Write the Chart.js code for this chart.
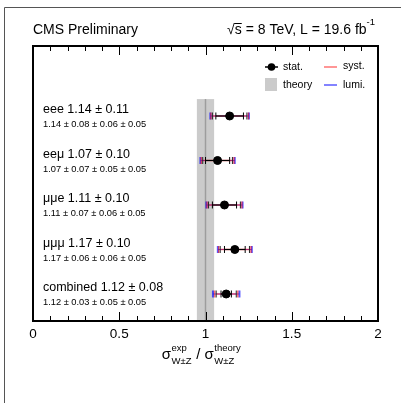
<!DOCTYPE html>
<html>
<head>
<meta charset="utf-8">
<script src="https://cdn.jsdelivr.net/npm/chart.js@4.4.0/dist/chart.umd.min.js"></script>
<style>
  html, body { margin: 0; padding: 0; background: #fff; }
</style>
</head>
<body>
<canvas id="chart-wz" width="401" height="403"></canvas>
<script>
/* ═══════════════════════════════════════════════════
   DATA
═══════════════════════════════════════════════════ */
const channels = ['eee', 'eeμ', 'μμe', 'μμμ', 'combined'];
const ratio    = [1.14, 1.07, 1.11, 1.17, 1.12];
const totalErr = [0.11, 0.10, 0.10, 0.10, 0.08];
const statErr  = [0.08, 0.07, 0.07, 0.06, 0.03];
const systErr  = [0.06, 0.05, 0.06, 0.06, 0.05];
const lumiErr  = [0.05, 0.05, 0.05, 0.05, 0.05];
const rowPos   = [5, 4, 3, 2, 1];
const theoryBand = [0.95, 1.05];
const theoryCentral = 1.0;
const xTicks = [0, 0.5, 1, 1.5, 2];
const xMinorStep = 0.1;

const FONT = '"Liberation Sans", Arial, Helvetica, sans-serif';
const RED = 'rgba(255,0,0,0.55)';
const BLUE = 'rgba(0,0,255,0.65)';

function font(size) { return size + 'px ' + FONT; }

function hLine(ctx, x0, x1, y, color, w) {
  ctx.strokeStyle = color; ctx.lineWidth = w;
  ctx.beginPath(); ctx.moveTo(x0, y); ctx.lineTo(x1, y); ctx.stroke();
}
function vLine(ctx, x, y0, y1, color, w) {
  ctx.strokeStyle = color; ctx.lineWidth = w;
  ctx.beginPath(); ctx.moveTo(x, y0); ctx.lineTo(x, y1); ctx.stroke();
}

/* ─── band + error bars, under the points ─── */
const errorBarsPlugin = {
  id: 'errorBars',
  beforeDatasetsDraw(chart) {
    const { ctx, chartArea: a, scales: { x, y } } = chart;
    ctx.save();
    // theory band
    const bandTop = y.getPixelForValue(rowPos[0] + 0.38);
    const bx0 = x.getPixelForValue(theoryBand[0]);
    const bx1 = x.getPixelForValue(theoryBand[1]);
    ctx.fillStyle = '#cbcbcb';
    ctx.fillRect(bx0, bandTop, bx1 - bx0, a.bottom - bandTop);
    vLine(ctx, x.getPixelForValue(theoryCentral), bandTop, a.bottom, '#9d9d9d', 1.5);

    const cap = 3.5;
    ratio.forEach((v, i) => {
      const py = y.getPixelForValue(rowPos[i]);
      const ss = Math.sqrt(statErr[i] ** 2 + systErr[i] ** 2);
      const tot = Math.sqrt(ss ** 2 + lumiErr[i] ** 2);
      const xl = (d) => x.getPixelForValue(v - d);
      const xr = (d) => x.getPixelForValue(v + d);
      // lumi (total)
      hLine(ctx, xl(tot), xr(tot), py, BLUE, 1);
      vLine(ctx, xl(tot), py - cap, py + cap, BLUE, 2);
      vLine(ctx, xr(tot), py - cap, py + cap, BLUE, 2);
      // syst
      hLine(ctx, xl(ss), xr(ss), py, RED, 1.5);
      vLine(ctx, xl(ss) - 1.5, py - cap, py + cap, RED, 1.5);
      vLine(ctx, xr(ss) + 1.5, py - cap, py + cap, RED, 1.5);
      vLine(ctx, xl(ss), py - cap, py + cap, '#222', 1);
      vLine(ctx, xr(ss), py - cap, py + cap, '#222', 1);
      // stat
      hLine(ctx, xl(statErr[i]), xr(statErr[i]), py, '#000', 1.2);
      vLine(ctx, xl(statErr[i]), py - cap, py + cap, '#000', 1);
      vLine(ctx, xr(statErr[i]), py - cap, py + cap, '#000', 1);
    });
    ctx.restore();
  }
};

/* ─── frame, ticks, labels, legend, titles ─── */
const decorPlugin = {
  id: 'decor',
  beforeDraw(chart) {
    const { ctx } = chart;
    ctx.save();
    ctx.fillStyle = '#fff';
    ctx.fillRect(0, 0, chart.width, chart.height);
    // outer canvas frame
    ctx.strokeStyle = '#555'; ctx.lineWidth = 1;
    ctx.beginPath();
    ctx.moveTo(4.5, chart.height); ctx.lineTo(4.5, 7.5); ctx.lineTo(chart.width, 7.5);
    ctx.stroke();
    ctx.restore();
  },
  afterDatasetsDraw(chart) {
    const { ctx, chartArea: a, scales: { x, y } } = chart;
    ctx.save();

    // ticks (inward, top and bottom)
    for (let k = 0; k <= 20; k++) {
      const v = k * xMinorStep;
      const px = Math.round(x.getPixelForValue(v)) + 0.5;
      const major = xTicks.some(t => Math.abs(t - v) < 1e-6);
      const len = major ? 9 : 5;
      vLine(ctx, px, a.bottom, a.bottom - len, '#000', 1);
      vLine(ctx, px, a.top, a.top + len, '#000', 1);
    }
    // plot frame
    ctx.strokeStyle = '#000'; ctx.lineWidth = 2;
    ctx.strokeRect(a.left, a.top, a.right - a.left, a.bottom - a.top);

    // tick labels
    ctx.fillStyle = '#000';
    ctx.font = font(13.5);
    ctx.textAlign = 'center'; ctx.textBaseline = 'middle';
    xTicks.forEach(t => ctx.fillText(String(t), x.getPixelForValue(t), a.bottom + 13));

    // row labels
    ctx.textAlign = 'left';
    channels.forEach((c, i) => {
      const py = y.getPixelForValue(rowPos[i]);
      ctx.font = font(12.5);
      ctx.fillText(c + ' ' + ratio[i].toFixed(2) + ' ± ' + totalErr[i].toFixed(2), a.left + 10, py - 6);
      ctx.font = font(9.3);
      ctx.fillText(ratio[i].toFixed(2) + ' ± ' + statErr[i].toFixed(2) + ' ± ' +
        systErr[i].toFixed(2) + ' ± ' + lumiErr[i].toFixed(2), a.left + 10, py + 8.5);
    });

    // legend
    const lx = a.right - 113, ly1 = a.top + 21, ly2 = a.top + 39;
    hLine(ctx, lx, lx + 13, ly1, '#000', 1.5);
    ctx.beginPath(); ctx.arc(lx + 6.5, ly1, 3.8, 0, Math.PI * 2); ctx.fillStyle = '#000'; ctx.fill();
    ctx.fillStyle = '#cbcbcb';
    ctx.fillRect(lx, ly2 - 7, 12, 13);
    hLine(ctx, lx + 59, lx + 72, ly1, RED, 1.5);
    hLine(ctx, lx + 59, lx + 72, ly2, BLUE, 1.5);
    ctx.fillStyle = '#000';
    ctx.font = font(10.5);
    ctx.fillText('stat.', lx + 18, ly1);
    ctx.fillText('theory', lx + 18, ly2);
    ctx.fillText('syst.', lx + 78, ly1 - 1);
    ctx.fillText('lumi.', lx + 78, ly2);

    // header texts
    ctx.font = font(14);
    ctx.fillText('CMS Preliminary', a.left, 30);
    const supW = (ctx.font = font(9.5), ctx.measureText('-1').width);
    ctx.font = font(14);
    const head = '√s = 8 TeV, L = 19.6 fb';
    const hw = ctx.measureText(head).width;
    const hx = 375 - supW - hw;
    ctx.fillText(head, hx, 30);
    const rw = ctx.measureText('√').width, sw = ctx.measureText('s').width;
    hLine(ctx, hx + rw - 0.5, hx + rw + sw, 23.5, '#000', 1);
    ctx.font = font(9.5);
    ctx.fillText('-1', 375 - supW, 22);

    // axis title
    drawAxisTitle(ctx, x.getPixelForValue(theoryCentral) - 4, a.bottom + 34);
    ctx.restore();
  }
};

function drawAxisTitle(ctx, cx, cy) {
  const big = font(15), small = font(9.5);
  const parts = [
    { t: 'σ', f: big }, { sup: 'exp', sub: 'W±Z' },
    { t: ' / ', f: big },
    { t: 'σ', f: big }, { sup: 'theory', sub: 'W±Z' }
  ];
  let total = 0;
  parts.forEach(p => {
    if (p.t) { ctx.font = p.f; p.w = ctx.measureText(p.t).width; }
    else { ctx.font = small; p.w = Math.max(ctx.measureText(p.sup).width, ctx.measureText(p.sub).width) + 1; }
    total += p.w;
  });
  let px = cx - total / 2;
  ctx.textAlign = 'left'; ctx.textBaseline = 'middle'; ctx.fillStyle = '#000';
  parts.forEach(p => {
    if (p.t) { ctx.font = p.f; ctx.fillText(p.t, px, cy); }
    else {
      ctx.font = small;
      ctx.fillText(p.sup, px + 0.5, cy - 7);
      ctx.fillText(p.sub, px + 0.5, cy + 6);
    }
    px += p.w;
  });
}

/* ═══════════════════════════════════════════════════
   CHART
═══════════════════════════════════════════════════ */
new Chart(document.getElementById('chart-wz'), {
  type: 'scatter',
  data: {
    datasets: [{
      label: 'stat.',
      data: ratio.map((v, i) => ({ x: v, y: rowPos[i] })),
      backgroundColor: '#000',
      borderColor: '#000',
      pointRadius: 4,
      pointHoverRadius: 4,
    }]
  },
  options: {
    responsive: false,
    animation: false,
    layout: { padding: { left: 33, right: 23, top: 46, bottom: 82 } },
    plugins: { legend: { display: false }, tooltip: { enabled: false } },
    scales: {
      x: { type: 'linear', min: 0, max: 2, display: false },
      y: { type: 'linear', min: 0.393, max: 6.573, display: false }
    }
  },
  plugins: [errorBarsPlugin, decorPlugin]
});
</script>
</body>
</html>
